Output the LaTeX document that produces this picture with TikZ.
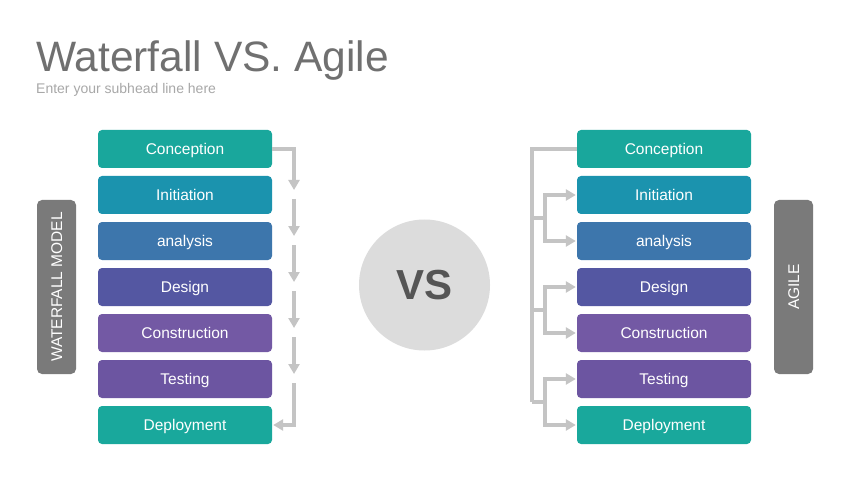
\documentclass[tikz,border=0pt]{standalone}
\usepackage{fontspec}
\setmainfont{Liberation Sans}
\usepackage{tikz}
\usetikzlibrary{arrows.meta}
\usetikzlibrary{calc}
\definecolor{concC}{HTML}{19A79C}
\definecolor{initC}{HTML}{1B93AE}
\definecolor{analC}{HTML}{3D76AC}
\definecolor{desiC}{HTML}{5457A2}
\definecolor{consC}{HTML}{7359A4}
\definecolor{testC}{HTML}{6C55A1}
\definecolor{deplC}{HTML}{19A89C}
\definecolor{sideC}{HTML}{7A7A7A}
\definecolor{titleC}{HTML}{707070}
\definecolor{subC}{HTML}{A8A8A8}
\definecolor{lineC}{HTML}{C4C4C4}
\definecolor{vsC}{HTML}{DCDCDC}
\definecolor{vsT}{HTML}{555555}

\begin{document}
\begin{tikzpicture}[x=1pt,y=-1pt,node distance=46pt,
		stage/.style={rectangle,rounded corners=4pt,minimum width=174pt,
			minimum height=38pt,inner sep=0pt,text=white,
			text height=11pt,text depth=0pt,
			font=\fontsize{15.5}{18}\selectfont},
		side/.style={rectangle,rounded corners=5pt,fill=sideC,text=white,
			minimum width=174pt,minimum height=39pt,inner sep=0pt,rotate=90,
			text height=11pt,text depth=0pt,
			font=\fontsize{15.5}{18}\selectfont},
		line/.style={draw=lineC,line width=3.2pt},
		flow/.style={line,-{Triangle[width=11pt,length=10pt]},shorten >=1pt}]
	
	\fill[white] (0,0) rectangle (850,478);
	\useasboundingbox (0,0) rectangle (850,478);
	
	\node[anchor=base west,inner sep=0pt,text=titleC,
		font=\fontsize{42.5}{50}\selectfont] (title) at (36,72) {Waterfall VS. Agile};
	\node[anchor=base west,inner sep=0pt,text=subC,
		font=\fontsize{14}{17}\selectfont] (sub) at (36,94) {Enter your subhead line here};
	
	% waterfall
	\node[stage,fill=concC] (wConc) at (185,149) {Conception};
	\node[stage,fill=initC] (wInit) [below of=wConc] {Initiation};
	\node[stage,fill=analC] (wAnal) [below of=wInit] {analysis};
	\node[stage,fill=desiC] (wDesi) [below of=wAnal] {Design};
	\node[stage,fill=consC] (wCons) [below of=wDesi] {Construction};
	\node[stage,fill=testC] (wTest) [below of=wCons] {Testing};
	\node[stage,fill=deplC] (wDepl) [below of=wTest] {Deployment};
	\node[side] (wLbl) at (56.5,287) {WATERFALL MODEL};
	
	\coordinate (fall) at (294,0);
	\draw[flow] (wConc.east) -- (fall |- wConc) -- ++(0,42);
	\foreach \a in {wInit,wAnal,wDesi,wCons}
		\draw[flow] (fall |- \a) ++(0,4) -- ++(0,38);
	\draw[flow] (fall |- wTest) ++(0,4) |- (wDepl.east);
	
	% vs
	\node[circle,fill=vsC,minimum size=131pt,inner sep=0pt,text=vsT,
		font=\bfseries\fontsize{42}{48}\selectfont] (vs) at (424.5,285) {VS};
	
	% agile
	\node[stage,fill=concC] (aConc) at (664,149) {Conception};
	\node[stage,fill=initC] (aInit) [below of=aConc] {Initiation};
	\node[stage,fill=analC] (aAnal) [below of=aInit] {analysis};
	\node[stage,fill=desiC] (aDesi) [below of=aAnal] {Design};
	\node[stage,fill=consC] (aCons) [below of=aDesi] {Construction};
	\node[stage,fill=testC] (aTest) [below of=aCons] {Testing};
	\node[stage,fill=deplC] (aDepl) [below of=aTest] {Deployment};
	\node[side] (aLbl) at (793.5,287) {AGILE};
	
	\coordinate (trunk) at (532,0);
	\coordinate (twig) at (545,0);
	\draw[line] (aConc.west) -| ($(trunk |- aTest)!.5!(trunk |- aDepl)$);
	\foreach \a/\b in {aInit/aAnal,aDesi/aCons,aTest/aDepl}{
		\coordinate (knot) at ($(\a.west)!.5!(\b.west)$);
		\draw[line] (trunk |- knot) -- (twig |- knot);
		\draw[flow] (twig |- knot) |- (\a.west);
		\draw[flow] (twig |- knot) |- (\b.west);
	}
	
\end{tikzpicture}
\end{document}
